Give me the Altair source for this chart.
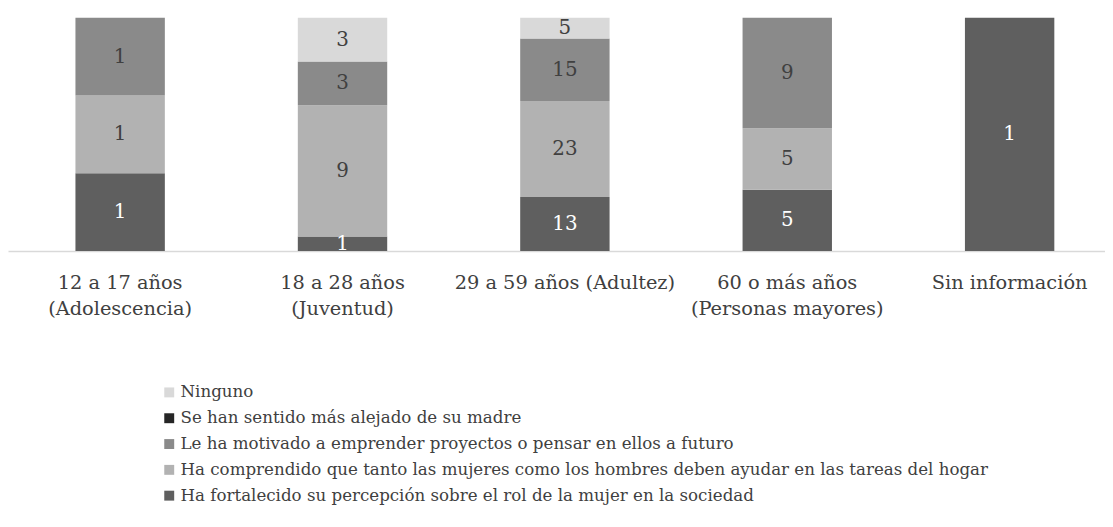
import altair as alt
import pandas as pd

categories = [
    "12 a 17 años\n(Adolescencia)",
    "18 a 28 años\n(Juventud)",
    "29 a 59 años (Adultez)",
    "60 o más años\n(Personas mayores)",
    "Sin información",
]
series = [
    "Ha fortalecido su percepción sobre el rol de la mujer en la sociedad",
    "Ha comprendido que tanto las mujeres como los hombres deben ayudar en las tareas del hogar",
    "Le ha motivado a emprender proyectos o pensar en ellos a futuro",
    "Se han sentido más alejado de su madre",
    "Ninguno",
]
fortalecido = [1, 1, 13, 5, 1]
comprendido = [1, 9, 23, 5, 0]
motivado = [1, 3, 15, 9, 0]
alejado = [0, 0, 0, 0, 0]
ninguno = [0, 3, 5, 0, 0]
colors = ["#5f5f5f", "#b2b2b2", "#8a8a8a", "#262626", "#d9d9d9"]
label_colors = ["#ffffff", "#404040", "#404040", "#ffffff", "#404040"]

values = [fortalecido, comprendido, motivado, alejado, ninguno]
rows = []
for si, s in enumerate(series):
    for ci, c in enumerate(categories):
        rows.append({"cat": c, "series": s, "value": values[si][ci], "order": si,
                     "lc": label_colors[si]})
df = pd.DataFrame(rows)

FONT = "DejaVu Serif"

base = alt.Chart(df).transform_joinaggregate(
    total="sum(value)", groupby=["cat"]
).transform_stack(
    stack="value", groupby=["cat"], as_=["s0", "s1"], sort=[alt.SortField("order", "ascending")]
).transform_calculate(
    y0="datum.s0 / datum.total",
    y1="datum.s1 / datum.total",
    mid="(datum.s0 + datum.s1) / 2 / datum.total",
)

xenc = alt.X(
    "cat:N",
    sort=categories,
    title=None,
    scale=alt.Scale(paddingInner=0.598, paddingOuter=0.2656, align=0.571),
    axis=alt.Axis(
        labelExpr="split(datum.label, '\\n')",
        labelAngle=0,
        labelFont=FONT,
        labelFontSize=19.5,
        labelLineHeight=26,
        labelColor="#404040",
        labelPadding=23,
        ticks=False,
        domainColor="#d9d9d9",
        domainWidth=1.5,
        labelLimit=400,
    ),
)

bars = base.mark_bar().encode(
    x=xenc,
    y=alt.Y("y0:Q", scale=alt.Scale(domain=[0, 1]), axis=None),
    y2="y1:Q",
    color=alt.Color(
        "series:N",
        scale=alt.Scale(domain=series, range=colors),
        sort=series[::-1],
        legend=alt.Legend(
            title=None,
            orient="none",
            legendX=154,
            legendY=369,
            direction="vertical",
            symbolType="square",
            symbolSize=100,
            symbolStrokeWidth=0,
            labelFont=FONT,
            labelFontSize=16.8,
            labelColor="#404040",
            labelOffset=3,
            rowPadding=8,
            labelLimit=900,
            values=series[::-1],
        ),
    ),
)

labels = base.transform_filter("datum.value > 0").mark_text(
    font=FONT, fontSize=20, baseline="middle", align="center"
).encode(
    x=alt.X("cat:N", sort=categories),
    y=alt.Y("mid:Q"),
    text="value:Q",
    color=alt.Color("lc:N", scale=None),
)

chart = alt.layer(bars, labels).properties(
    width=1105, height=235, padding={"top": 8, "left": 0, "right": 0, "bottom": 0}
).configure_view(stroke=None)

chart.save("out.html", embed_options={"renderer": "svg", "actions": False})
